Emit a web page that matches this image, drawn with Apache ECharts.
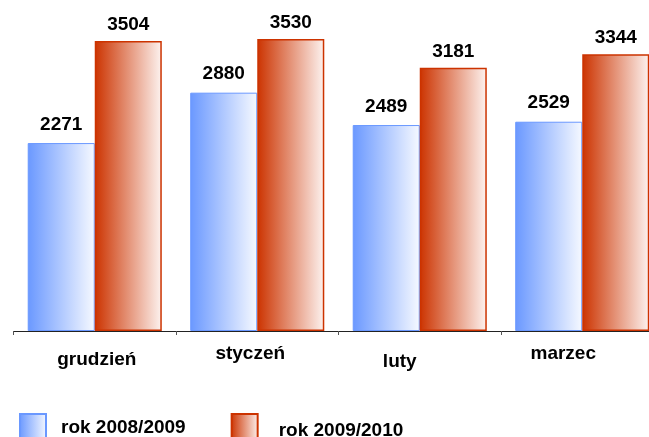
<!DOCTYPE html>
<html><head><meta charset="utf-8">
<script src="https://cdn.jsdelivr.net/npm/echarts@6/dist/echarts.min.js"></script>
<style>html,body{margin:0;padding:0;overflow:hidden;background:#fff;width:649px;height:437px}#c{width:665px;height:437px}</style>
</head><body><div id="c"></div>
<script>
const categories = ['grudzień', 'styczeń', 'luty', 'marzec'];
const seriesNames = ['rok 2008/2009', 'rok 2009/2010'];
const values0809 = [2271, 2880, 2489, 2529];
const values0910 = [3504, 3530, 3181, 3344];

const FONT = 'Liberation Sans, Arial, sans-serif';
const blueGrad = new echarts.graphic.LinearGradient(0, 0, 1, 0, [
  {offset: 0, color: '#6a98ff'}, {offset: 1, color: '#f6f9ff'}]);
const redGrad = new echarts.graphic.LinearGradient(0, 0, 1, 0, [
  {offset: 0, color: '#cc3300'}, {offset: 1, color: '#fdf3f0'}]);

const keys = ['a', 'b', 'c', 'd'];
const labelPad = [[6, 0, 0, 4], [0, 14, 0, 0], [8, 40, 0, 0], [0, 38, 0, 0]];

const chart = echarts.init(document.getElementById('c'), null, {renderer: 'canvas'});
chart.setOption({
  animation: false,
  backgroundColor: '#fff',
  grid: {left: 13.5, right: 1.5, top: 0, bottom: 106},
  legend: {
    left: 19, top: 413, padding: 0, itemWidth: 26, itemHeight: 30, itemGap: 45,
    icon: 'rect',
    formatter: n => (n === seriesNames[0] ? '{l0|' : '{l1|') + n + '}',
    textStyle: {
      fontFamily: FONT, fontWeight: 'bold', fontSize: 19, color: '#000',
      rich: {
        l0: {fontFamily: FONT, fontWeight: 'bold', fontSize: 19, color: '#000', padding: [0, 0, 3, 10]},
        l1: {fontFamily: FONT, fontWeight: 'bold', fontSize: 19, color: '#000', padding: [4, 0, 0, 16]}
      }
    },
    data: seriesNames
  },
  xAxis: {
    type: 'category', data: categories,
    axisLine: {lineStyle: {color: '#222', width: 1}},
    axisTick: {show: true, length: 4, lineStyle: {color: '#555'}},
    axisLabel: {
      margin: 13,
      formatter: v => '{' + keys[categories.indexOf(v)] + '|' + v + '}',
      rich: Object.fromEntries(keys.map((k, i) => [k, {
        fontFamily: FONT, fontWeight: 'bold', fontSize: 19, color: '#000',
        padding: labelPad[i]
      }]))
    }
  },
  yAxis: {type: 'value', min: 0, max: 4000, show: false, splitLine: {show: false}},
  series: [
    {
      name: seriesNames[0], type: 'bar', data: values0809,
      barGap: '0%', barCategoryGap: '17.5%',
      itemStyle: {color: blueGrad, borderColor: '#6a98ff', borderWidth: 1},
      label: {show: true, position: 'top', distance: 9, fontFamily: FONT, fontWeight: 'bold', fontSize: 19, color: '#000'}
    },
    {
      name: seriesNames[1], type: 'bar', data: values0910,
      barGap: '0%', barCategoryGap: '17.5%',
      itemStyle: {color: redGrad, borderColor: '#cc3300', borderWidth: 1.5},
      label: {show: true, position: 'top', distance: 7, fontFamily: FONT, fontWeight: 'bold', fontSize: 19, color: '#000'}
    }
  ]
});
</script></body></html>
